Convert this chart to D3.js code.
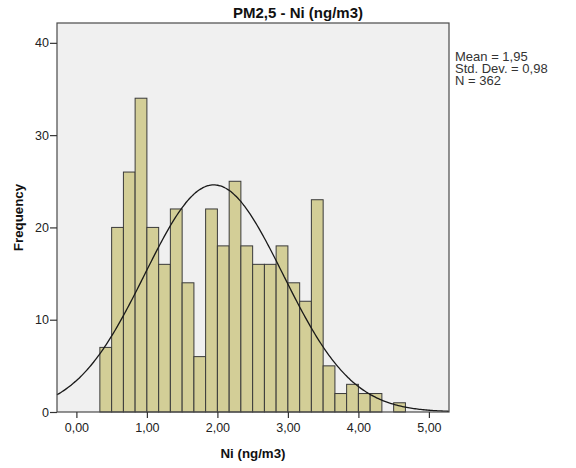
<!DOCTYPE html>
<html>
<head>
	<meta charset="utf-8">
	<title>PM2,5 - Ni histogram</title>
	<style>
		body { margin: 0; background: #fff; }
		svg { display: block; font-family: "Liberation Sans", Arial, sans-serif; }
	</style>
</head>
<body onload="init()">
	<svg width="576" height="468"></svg>
</body>
<script src="https://cdn.jsdelivr.net/npm/d3@7"></script>
<script>
	// bin edges (lower, upper) and counts
	let binLo = [0.333, 0.5, 0.667, 0.833, 1.0, 1.167, 1.333, 1.5, 1.667, 1.833, 2.0, 2.167, 2.333,
		2.5, 2.667, 2.833, 3.0, 3.167, 3.333, 3.5, 3.667, 3.833, 4.0, 4.167, 4.333, 4.5]
	let binHi = [0.5, 0.667, 0.833, 1.0, 1.167, 1.333, 1.5, 1.667, 1.833, 2.0, 2.167, 2.333, 2.5,
		2.667, 2.833, 3.0, 3.167, 3.333, 3.5, 3.667, 3.833, 4.0, 4.167, 4.333, 4.5, 4.667]
	let counts = [7, 20, 26, 34, 20, 16, 22, 14, 6, 22, 18, 25, 18,
		16, 16, 18, 14, 12, 23, 5, 2, 3, 2, 2, 0, 1]
	// summary stats
	let mean = 1.95, sd = 0.98, n = 362
	let statLines = ["Mean = 1,95", "Std. Dev. = 0,98", "N = 362"]
	// ticks
	let xTicks = [0, 1, 2, 3, 4, 5]
	let yTicks = [0, 10, 20, 30, 40]

	function init() {
		let svg = d3.select("svg")
		let left = 57, right = 449, top = 23, bottom = 412

		let x = d3.scaleLinear().domain([-0.275, 5.285]).range([left, right])
		let y = d3.scaleLinear().domain([0, 42.15]).range([bottom, top])

		//背景
		svg.append("rect")
			.attr("x", left).attr("y", top)
			.attr("width", right - left).attr("height", bottom - top)
			.attr("fill", "#f0f0f0")

		//柱子
		let bars = svg.append("g")
		counts.forEach((c, i) => {
			if (c <= 0) return
			bars.append("rect")
				.attr("x", x(binLo[i])).attr("y", y(c))
				.attr("width", x(binHi[i]) - x(binLo[i])).attr("height", y(0) - y(c))
				.attr("fill", "#d3ce97").attr("stroke", "#3a3a3a").attr("stroke-width", 1)
		})

		//正态曲线
		let w = binHi[0] - binLo[0]
		let pts = d3.range(x.domain()[0], x.domain()[1] + 0.001, 0.02)
		let normal = v => n * w / (sd * Math.sqrt(2 * Math.PI)) * Math.exp(-0.5 * ((v - mean) / sd) ** 2)
		svg.append("path")
			.attr("fill", "none").attr("stroke", "#1a1a1a").attr("stroke-width", 1.3)
			.attr("d", d3.line().x(v => x(v)).y(v => y(normal(v))).curve(d3.curveBasis)(pts))

		//边框
		svg.append("rect")
			.attr("x", left).attr("y", top)
			.attr("width", right - left).attr("height", bottom - top)
			.attr("fill", "none").attr("stroke", "#4a4a4a").attr("stroke-width", 1.2)

		//坐标轴
		let xAxis = svg.append("g").attr("transform", `translate(0,${bottom})`)
			.call(d3.axisBottom(x).tickValues(xTicks).tickSize(6).tickPadding(5)
				.tickFormat(d => d3.format(".2f")(d).replace(".", ",")))
		let yAxis = svg.append("g").attr("transform", `translate(${left},0)`)
			.call(d3.axisLeft(y).tickValues(yTicks).tickSize(7).tickPadding(1))
		;[xAxis, yAxis].forEach(a => {
			a.select(".domain").remove()
			a.selectAll("line").attr("stroke", "#333").attr("stroke-width", 1.2)
			a.selectAll("text").attr("fill", "#222").attr("font-size", "12.5px")
				.attr("font-family", "Liberation Sans, Arial, sans-serif")
		})

		//标题
		svg.append("text")
			.attr("x", 298).attr("y", 18).attr("text-anchor", "middle")
			.attr("font-size", "15px").attr("font-weight", "bold").attr("fill", "#111")
			.text("PM2,5 - Ni (ng/m3)")
		svg.append("text")
			.attr("x", (left + right) / 2).attr("y", 458).attr("text-anchor", "middle")
			.attr("font-size", "13.3px").attr("font-weight", "bold").attr("fill", "#111")
			.text("Ni (ng/m3)")
		svg.append("text")
			.attr("transform", `translate(23,${(top + bottom) / 2}) rotate(-90)`)
			.attr("text-anchor", "middle")
			.attr("font-size", "13.3px").attr("font-weight", "bold").attr("fill", "#111")
			.text("Frequency")

		//统计信息
		svg.append("g").selectAll("text").data(statLines).enter().append("text")
			.attr("x", 455).attr("y", (d, i) => 61 + i * 11.8)
			.attr("font-size", "13px").attr("fill", "#333")
			.text(d => d)
	}
</script>
</html>
